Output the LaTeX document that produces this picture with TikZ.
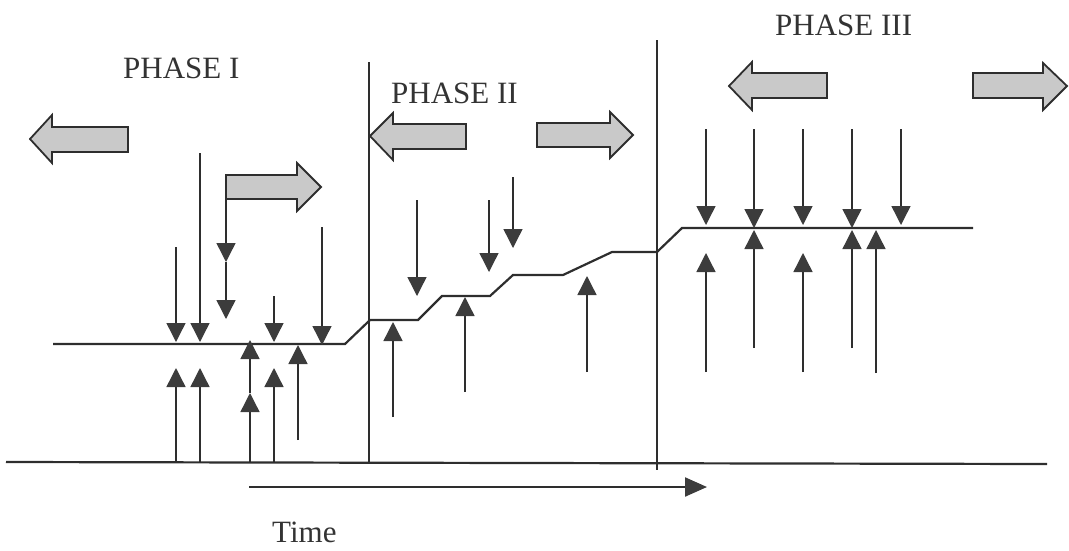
\documentclass[tikz,border=0pt]{standalone}
\usepackage{fontspec}
\setmainfont{Liberation Serif}
\usetikzlibrary{arrows.meta}
\definecolor{ink}{HTML}{2E2E2E}
\definecolor{blockfill}{HTML}{C9C9C9}
\definecolor{headfill}{HTML}{3C3C3C}
\tikzset{
  thinline/.style={draw=ink, line width=1.4pt},
  mainline/.style={draw=ink, line width=2.2pt},
  tri/.style={-{Triangle[width=19pt,length=19pt,fill=headfill,color=headfill]}},
  blockarrow/.style={draw=ink, line width=1.8pt, fill=blockfill, line join=miter},
  label/.style={font=\fontsize{31}{36}\selectfont, text=black!80, inner sep=0pt, anchor=base west}
}
\begin{document}
\begin{tikzpicture}[x=1pt,y=-1pt]
\useasboundingbox (0,0) rectangle (1069,550);

% labels
\node[label] (p1) at (123,78) {PHASE I};
\node[label] (p2) at (391,103) {PHASE II};
\node[label] (p3) at (775,35) {PHASE III};
\node[label] (time) at (272,542) {Time};

% baseline and time arrow
\draw[mainline] (6,462) -- (1047,464);
\draw[mainline, -{Triangle[width=19pt,length=22pt,fill=headfill,color=headfill]}] (249,487) -- (707,487);

% phase separators
\draw[thinline] (369,62) -- (369,462);
\draw[thinline] (657,40) -- (657,470);

% staircase
\draw[mainline, line join=miter] (53,344) -- (345,344) -- (370,320) -- (418,320) -- (442,296) -- (490,296)
  -- (513,275) -- (563,275) -- (612,252) -- (657,252) -- (682,228) -- (973,228);

% block arrows
\draw[blockarrow] (30,139) -- (52,115) -- (52,127) -- (128,127) -- (128,152) -- (52,152) -- (52,163) -- cycle;
\draw[blockarrow] (226,175) -- (297,175) -- (297,163) -- (321,187) -- (297,211) -- (297,199) -- (226,199) -- cycle;
\draw[blockarrow] (370,136) -- (393,113) -- (393,124) -- (466,124) -- (466,149) -- (393,149) -- (393,160) -- cycle;
\draw[blockarrow] (537,123) -- (610,123) -- (610,112) -- (633,135) -- (610,158) -- (610,147) -- (537,147) -- cycle;
\draw[blockarrow] (729,86) -- (752,62) -- (752,73) -- (827,73) -- (827,98) -- (752,98) -- (752,110) -- cycle;
\draw[blockarrow] (973,73) -- (1043,73) -- (1043,63) -- (1067,86) -- (1043,110) -- (1043,98) -- (973,98) -- cycle;

% down arrows
\foreach \x/\a/\b in {176/247/342, 200/153/342, 274/296/342, 322/227/345,
                      417/200/296, 489/200/272, 513/177/248,
                      706/129/225, 754/129/228, 803/129/225, 852/129/228, 901/129/225}
  \draw[thinline, tri] (\x,\a) -- (\x,\b);
\draw[thinline, tri] (226,199) -- (226,262);
\draw[thinline, tri] (226,262) -- (226,319);

% up arrows
\foreach \x/\a/\b in {176/462/368, 200/462/368, 274/462/368, 298/440/345,
                      393/417/322, 465/392/297, 587/372/276,
                      706/372/253, 754/348/230, 803/372/253, 852/348/230, 876/373/230}
  \draw[thinline, tri] (\x,\a) -- (\x,\b);
\draw[thinline, tri] (250,462) -- (250,393);
\draw[thinline, tri] (250,393) -- (250,340);
\end{tikzpicture}
\end{document}
